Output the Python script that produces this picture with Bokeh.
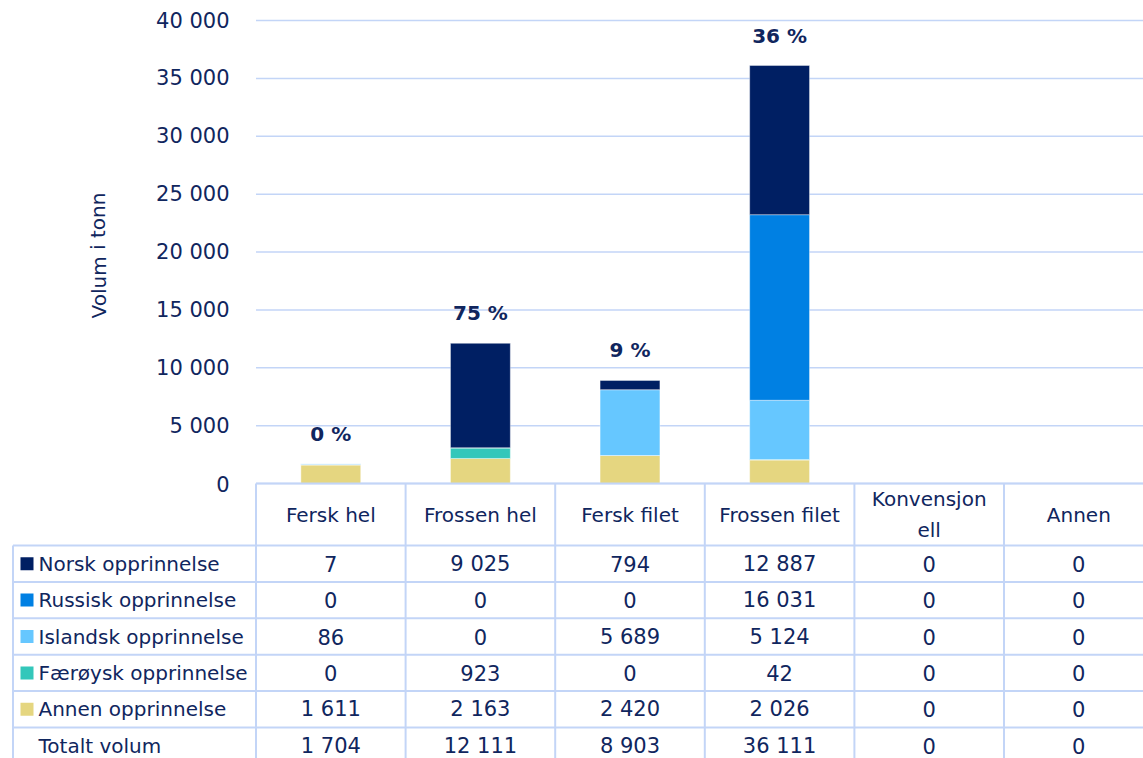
from bokeh.plotting import figure
from bokeh.models import Range1d, ColumnDataSource
from bokeh.embed import file_html
from bokeh.resources import INLINE
from bokeh.core.properties import value

# ---------------- data ----------------
categories = ["Fersk hel", "Frossen hel", "Fersk filet", "Frossen filet", "Konvensjonell", "Annen"]
header_labels = ["Fersk hel", "Frossen hel", "Fersk filet", "Frossen filet", "Konvensjon\nell", "Annen"]
series_names = ["Norsk opprinnelse", "Russisk opprinnelse", "Islandsk opprinnelse",
                "Færøysk opprinnelse", "Annen opprinnelse"]
norsk = [7, 9025, 794, 12887, 0, 0]
russisk = [0, 0, 0, 16031, 0, 0]
islandsk = [86, 0, 5689, 5124, 0, 0]
faroysk = [0, 923, 0, 42, 0, 0]
annen = [1611, 2163, 2420, 2026, 0, 0]
totalt = [1704, 12111, 8903, 36111, 0, 0]
total_label = "Totalt volum"
y_ticks = [0, 5000, 10000, 15000, 20000, 25000, 30000, 35000, 40000]
y_title = "Volum i tonn"

colors = {"norsk": "#001F63", "russisk": "#0080E3", "islandsk": "#66C7FF",
          "faroysk": "#33C7BA", "annen": "#E5D680"}
TEXT = "#10265E"
BORDER = "#C3D5F7"
FONT = "DejaVu Sans"

# ---------------- layout helpers (page pixels -> data units) ----------------
W, H = 1143, 758
PX = 149.6          # px per category column
X0 = 255.5          # page x of category 0 boundary
Y0 = 483.0          # page y of value 0
YS = 463.0 / 40000  # px per tonne

def ux(px):
    return (px - X0) / PX

def uy(py):
    return (Y0 - py) / YS

p = figure(width=W, height=H, output_backend="svg", toolbar_location=None,
           x_range=Range1d(ux(0), ux(W)), y_range=Range1d(uy(H), uy(0)),
           x_axis_type=None, y_axis_type=None, min_border=0)
p.outline_line_color = None
p.grid.visible = False
p.background_fill_color = "white"
p.border_fill_color = "white"

# ---------------- gridlines + y tick labels ----------------
p.segment(x0=[0] * len(y_ticks), x1=[ux(W)] * len(y_ticks), y0=y_ticks, y1=y_ticks,
          line_color=BORDER, line_width=1.5)
p.text(x=[ux(229)] * len(y_ticks), y=y_ticks,
       text=[f"{t:,}".replace(",", " ") for t in y_ticks],
       text_align="right", text_baseline="middle", text_font=value(FONT),
       text_font_size="21px", text_color=TEXT)
p.text(x=[ux(98)], y=[uy(255)], text=[y_title], angle=1.5708,
       text_align="center", text_baseline="middle", text_font=value(FONT),
       text_font_size="20px", text_color=TEXT)

# ---------------- stacked bars ----------------
src = ColumnDataSource(dict(x=[i + 0.5 for i in range(len(categories))],
                            norsk=norsk, russisk=russisk, islandsk=islandsk,
                            faroysk=faroysk, annen=annen))
stack = ["annen", "faroysk", "islandsk", "russisk", "norsk"]
p.vbar_stack(stack, x="x", width=0.4, source=src,
             fill_color=[colors[s] for s in stack], line_color="white", line_width=0.4)

# percentage labels (share of Norwegian origin)
lab_x, lab_y, lab_t = [], [], []
for i, tot in enumerate(totalt):
    if tot > 0:
        lab_x.append(i + 0.5)
        lab_y.append(tot + 30 / YS)
        lab_t.append(f"{round(norsk[i] / tot * 100)} %")
p.text(x=lab_x, y=lab_y, text=lab_t, text_align="center", text_baseline="middle",
       text_font=value(FONT), text_font_size="20px", text_font_style="bold", text_color=TEXT)

# ---------------- data table ----------------
header_top, header_bot = 483.0, 545.0
row_h = 36.4
rows = [norsk, russisk, islandsk, faroysk, annen, totalt]
row_names = series_names + [total_label]
row_colors = [colors[k] for k in ["norsk", "russisk", "islandsk", "faroysk", "annen"]]
row_tops = [header_bot + k * row_h for k in range(len(rows) + 1)]
left_px = 12.5
right_u = ux(W)
bottom_u = uy(H)

# horizontal borders
hx0 = [0] + [ux(left_px)] * len(row_tops)
hx1 = [right_u] * (1 + len(row_tops))
hy = [uy(header_top)] + [uy(t) for t in row_tops]
p.segment(x0=hx0, x1=hx1, y0=hy, y1=hy, line_color=BORDER, line_width=2)
# vertical borders
vx = [ux(left_px)] + [float(k) for k in range(len(categories) + 1)]
vy0 = [uy(header_bot)] + [uy(header_top)] * (len(categories) + 1)
p.segment(x0=vx, x1=vx, y0=vy0, y1=[bottom_u] * len(vx), line_color=BORDER, line_width=2)

# header labels
p.text(x=[i + 0.5 for i in range(len(header_labels))],
       y=[uy((header_top + header_bot) / 2)] * len(header_labels), text=header_labels,
       text_align="center", text_baseline="middle", text_line_height=1.3,
       text_font=value(FONT), text_font_size="20px", text_color=TEXT)

# row labels + legend squares
centers = [uy(row_tops[k] + row_h / 2) for k in range(len(rows))]
p.text(x=[ux(38)] * len(rows), y=centers, text=row_names, text_align="left",
       text_baseline="middle", text_font=value(FONT), text_font_size="20px", text_color=TEXT)
p.scatter(x=[ux(26.5)] * len(row_colors), y=centers[:len(row_colors)], marker="square",
          size=13, fill_color=row_colors, line_color=None)

# cell values
cx, cy, ct = [], [], []
for k, r in enumerate(rows):
    for i, v in enumerate(r):
        cx.append(i + 0.5)
        cy.append(centers[k])
        ct.append(f"{v:,}".replace(",", " "))
p.text(x=cx, y=cy, text=ct, text_align="center", text_baseline="middle",
       text_font=value(FONT), text_font_size="21px", text_color=TEXT)

open("out.html", "w").write(file_html(p, INLINE))
